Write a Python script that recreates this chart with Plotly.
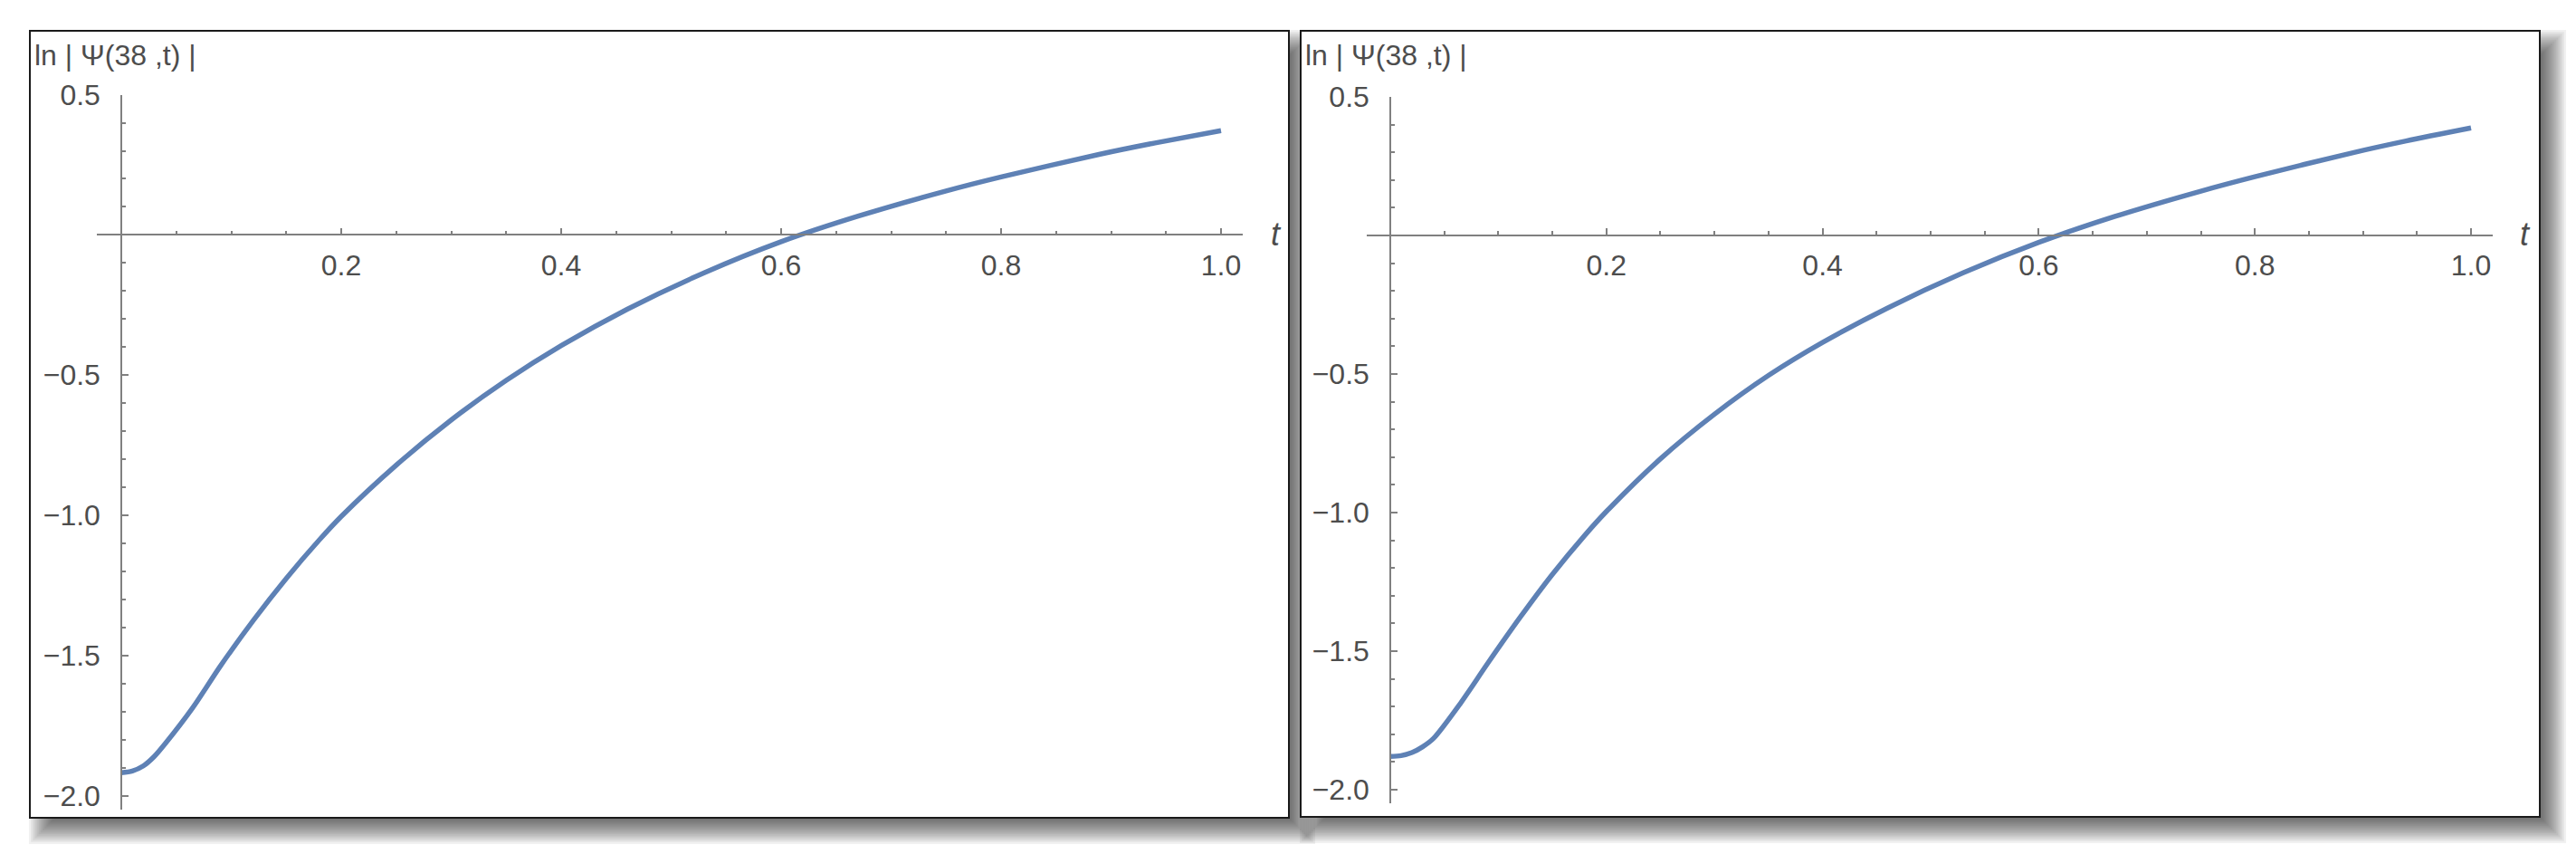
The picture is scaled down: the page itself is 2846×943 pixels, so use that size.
import plotly.graph_objects as go

# ---------------- data ----------------
t_left = [0.00, 0.01, 0.02, 0.03, 0.04, 0.065, 0.09, 0.12, 0.15, 0.18, 0.20,
          0.25, 0.30, 0.35, 0.40, 0.46, 0.53, 0.60, 0.67, 0.75, 0.80, 0.89,
          0.94, 1.00]
psi_left = [-1.918, -1.912, -1.894, -1.860, -1.814, -1.686, -1.538, -1.375,
            -1.225, -1.088, -1.004, -0.821, -0.660, -0.519, -0.395, -0.265,
            -0.135, -0.024, 0.067, 0.157, 0.207, 0.288, 0.328, 0.372]

t_right = [0.00, 0.01, 0.02, 0.03, 0.04, 0.065, 0.09, 0.12, 0.15, 0.18, 0.20,
           0.25, 0.30, 0.35, 0.40, 0.46, 0.53, 0.60, 0.67, 0.75, 0.80, 0.89,
           0.94, 1.00]
psi_right = [-1.880, -1.877, -1.866, -1.845, -1.815, -1.688, -1.545, -1.379,
             -1.223, -1.082, -0.996, -0.806, -0.645, -0.505, -0.386, -0.262,
             -0.135, -0.025, 0.068, 0.160, 0.212, 0.298, 0.341, 0.388]

x_tick_vals = [0.2, 0.4, 0.6, 0.8, 1.0]
x_tick_text = ["0.2", "0.4", "0.6", "0.8", "1.0"]
y_tick_vals = [-2.0, -1.5, -1.0, -0.5, 0.5]
y_tick_text = ["\u22122.0", "\u22121.5", "\u22121.0", "\u22120.5", "0.5"]
x_minor_vals = [0.05, 0.10, 0.15, 0.25, 0.30, 0.35, 0.45, 0.50, 0.55,
                0.65, 0.70, 0.75, 0.85, 0.90, 0.95]
y_minor_vals = [-1.9, -1.8, -1.7, -1.6, -1.4, -1.3, -1.2, -1.1, -0.9, -0.8,
                -0.7, -0.6, -0.4, -0.3, -0.2, -0.1, 0.1, 0.2, 0.3, 0.4]

y_label = "ln | \u03a8(38 ,t) |"
x_label = "t"

x_range = [-0.022, 1.02]
y_range = [-2.05, 0.5]

# ---------------- layout geometry ----------------
W, H = 2846, 943
LINE_COLOR = "#5E81B5"
AXIS_COLOR = "#808080"
TEXT_COLOR = "#4d4d4d"
FONT = "Liberation Sans, Arial, sans-serif"


def px(x):
    return x / W


def py(y):
    return 1 - y / H


panels = [
    dict(frame=(33, 34, 1424, 903), xdom=(107.3, 1373.3), ydom=(104.6, 894.1),
         title_x=36, t_x=1410, t=t_left, v=psi_left),
    dict(frame=(1437, 34, 2806, 902), xdom=(1509.7, 2753.9), ydom=(107.0, 887.3),
         title_x=1440, t_x=2790, t=t_right, v=psi_right),
]

fig = go.Figure()
shapes = []
annotations = []

# soft drop shadows first
for p in panels:
    x0, y0, x1, y1 = p["frame"]
    dx, dy, B, N = 14, 14, 15, 14
    for i in range(N):
        s = B - 2 * B * i / N
        shapes.append(dict(type="rect", xref="paper", yref="paper",
                           x0=px(x0 + dx - s), x1=px(x1 + dx + s),
                           y0=py(y1 + dy + s), y1=py(y0 + dy - s),
                           line=dict(width=0), fillcolor="rgba(0,0,0,0.055)",
                           layer="below"))
# white framed panels
for p in panels:
    x0, y0, x1, y1 = p["frame"]
    shapes.append(dict(type="rect", xref="paper", yref="paper",
                       x0=px(x0), x1=px(x1), y0=py(y1), y1=py(y0),
                       line=dict(color="#1a1a1a", width=2), fillcolor="white",
                       layer="below"))

for k, p in enumerate(panels, start=1):
    xd = [px(p["xdom"][0]), px(p["xdom"][1])]
    yd = [py(p["ydom"][1]), py(p["ydom"][0])]
    xa = "x" if k == 1 else f"x{k}"
    ya = "y" if k == 1 else f"y{k}"
    fig.add_trace(go.Scatter(x=p["t"], y=p["v"], mode="lines",
                             line=dict(color=LINE_COLOR, width=5.5, shape="spline",
                                       smoothing=0.8),
                             xaxis=xa, yaxis=ya, hoverinfo="skip"))
    # axis crossing positions derived from the scales
    xpos = yd[0] + (0 - y_range[0]) / (y_range[1] - y_range[0]) * (yd[1] - yd[0])
    ypos = xd[0] + (0 - x_range[0]) / (x_range[1] - x_range[0]) * (xd[1] - xd[0])
    common = dict(showgrid=False, zeroline=False, showline=True,
                  linecolor=AXIS_COLOR, linewidth=1.5, ticks="inside",
                  tickcolor=AXIS_COLOR, tickwidth=1.5, ticklen=7,
                  tickfont=dict(family=FONT, size=32, color=TEXT_COLOR),
                  anchor="free", fixedrange=True, automargin=False)
    fig.layout[("xaxis" if k == 1 else f"xaxis{k}")] = dict(
        domain=xd, range=x_range, position=xpos,
        tickmode="array", tickvals=x_tick_vals, ticktext=x_tick_text,
        ticklabelstandoff=5,
        minor=dict(tickmode="array", tickvals=x_minor_vals, ticks="inside",
                   ticklen=4, tickcolor=AXIS_COLOR, tickwidth=1.5),
        **common)
    fig.layout[("yaxis" if k == 1 else f"yaxis{k}")] = dict(
        domain=yd, range=y_range, position=ypos,
        tickmode="array", tickvals=y_tick_vals, ticktext=y_tick_text,
        ticklabelstandoff=16,
        minor=dict(tickmode="array", tickvals=y_minor_vals, ticks="inside",
                   ticklen=4, tickcolor=AXIS_COLOR, tickwidth=1.5),
        **common)
    annotations.append(dict(text=y_label, xref="paper", yref="paper",
                            x=px(p["title_x"]), y=py(61), xanchor="left",
                            yanchor="middle", showarrow=False,
                            font=dict(family=FONT, size=32, color=TEXT_COLOR)))
    annotations.append(dict(text=f"<i>{x_label}</i>", xref="paper", yref="paper",
                            x=px(p["t_x"]), y=py(259), xanchor="center",
                            yanchor="middle", showarrow=False,
                            font=dict(family=FONT, size=36, color=TEXT_COLOR)))

fig.update_layout(width=W, height=H, margin=dict(l=0, r=0, t=0, b=0, autoexpand=False),
                  paper_bgcolor="white", plot_bgcolor="rgba(0,0,0,0)",
                  showlegend=False, shapes=shapes, annotations=annotations)

fig.write_html("out.html", config={"displayModeBar": False},
               post_script="document.body.style.margin='0px';")
